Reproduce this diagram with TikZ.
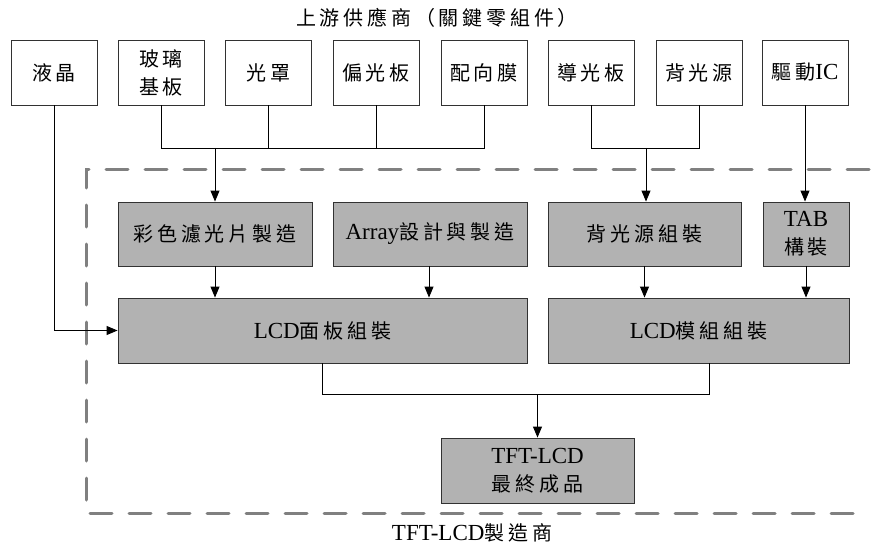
\documentclass[tikz,border=0pt]{standalone}
\usepackage{fontspec}
\setmainfont{Liberation Serif}
\newfontfamily\cjkf[LetterSpace=19]{Noto Sans CJK TC}
\newcommand\zh[1]{{\fontsize{20}{28}\selectfont\cjkf #1}}
\usetikzlibrary{arrows.meta}
\definecolor{boxgray}{RGB}{178,178,178}
\definecolor{dashgray}{RGB}{128,128,128}
\definecolor{edgegray}{RGB}{50,50,50}
\tikzset{
  wbox/.style={draw=edgegray, line width=0.9pt, fill=white, align=center, inner sep=0pt},
  gbox/.style={draw=edgegray, line width=0.9pt, fill=boxgray, align=center, inner sep=0pt},
  conn/.style={line width=0.9pt, draw=black},
  arr/.style={conn, -{Triangle[length=11pt,width=9pt]}},
  frame/.style={draw=dashgray, line width=3pt, dash pattern=on 22pt off 17pt, line cap=round},
  lbl/.style={inner sep=0pt}
}
\begin{document}
\begin{tikzpicture}[x=1pt,y=-1pt, font=\fontsize{23}{28}\selectfont]
\useasboundingbox (0,0) rectangle (874,548);

% dashed frame (open on the right)
\draw[frame] (869,169) -- (86,169) -- (86,513) -- (868,513);

% titles
\node[lbl] (top) at (437,18) {\zh{上游供應商（關鍵零組件）}};
\node[lbl] (bot) at (472,533) {TFT-LCD\zh{製造商}};

% upstream boxes
\foreach \n/\x/\t in {b1/54/{\zh{液晶}}, b2/161/{\zh{玻璃}\\\zh{基板}}, b3/268.5/{\zh{光罩}},
  b4/376/{\zh{偏光板}}, b5/484/{\zh{配向膜}}, b6/591/{\zh{導光板}},
  b7/699/{\zh{背光源}}, b8/805/{\zh{驅動}IC}}
  \node[wbox, minimum width=86pt, minimum height=65pt] (\n) at (\x,72.5) {\t};

% row 1
\node[gbox, minimum width=194pt, minimum height=64pt] (cf) at (215,234) {\zh{彩色濾光片製造}};
\node[gbox, minimum width=194pt, minimum height=64pt] (arr) at (430,234) {Array\zh{設計與製造}};
\node[gbox, minimum width=193pt, minimum height=64pt] (bla) at (644.5,234) {\zh{背光源組裝}};
\node[gbox, minimum width=86pt, minimum height=64pt] (tab) at (806,234) {TAB\\\zh{構裝}};

% row 2
\node[gbox, minimum width=409pt, minimum height=65pt] (panel) at (322.5,330.5) {LCD\zh{面板組裝}};
\node[gbox, minimum width=301pt, minimum height=65pt] (module) at (698.5,330.5) {LCD\zh{模組組裝}};

% final
\node[gbox, minimum width=193pt, minimum height=65pt] (tft) at (537.5,470.5) {TFT-LCD\\\zh{最終成品}};

% junctions
\coordinate (j1) at (215,148);
\coordinate (j2) at (646,148);
\coordinate (j3) at (537.5,394);

% connectors
\draw[conn] (b2.south) |- (j1);
\draw[conn] (b5.south) |- (j1);
\draw[conn] (b3.south) -- (b3.south |- j1);
\draw[conn] (b4.south) -- (b4.south |- j1);
\draw[arr] (j1) -- (cf.north);
\draw[conn] (b6.south) |- (j2);
\draw[conn] (b7.south) |- (j2);
\draw[arr] (j2) -- (j2 |- bla.north);
\draw[arr] (b8.south) -- (b8.south |- tab.north);
\draw[arr] (b1.south) |- (panel.west);
\draw[arr] (cf.south) -- (cf.south |- panel.north);
\draw[arr] ([xshift=-1pt]arr.south) -- ([xshift=-1pt]arr.south |- panel.north);
\draw[arr] (bla.south) -- (bla.south |- module.north);
\draw[arr] (tab.south) -- (tab.south |- module.north);
\draw[conn] (panel.south) |- (j3);
\draw[conn] ([xshift=10.5pt]module.south) |- (j3);
\draw[arr] (j3) -- (tft.north);
\end{tikzpicture}
\end{document}
